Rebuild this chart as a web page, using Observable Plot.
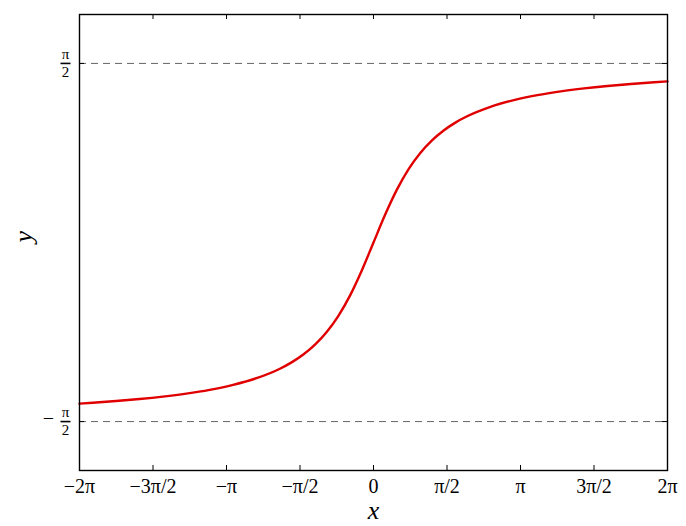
<!DOCTYPE html>
<html>
<head>
<meta charset="utf-8">
<script src="https://cdn.jsdelivr.net/npm/d3@7"></script>
<script src="https://cdn.jsdelivr.net/npm/@observablehq/plot@0.6"></script>
<style>
  html, body { margin: 0; padding: 0; background: #fff; }
</style>
</head>
<body>
<div id="chart"></div>
<script>
const PI = Math.PI;
// Curve samples (y = arctan x shape)
const xs = [-6.2832, -6, -5.5, -5, -4.5, -4, -3.5, -3, -2.5, -2, -1.75, -1.5, -1.25, -1, -0.75, -0.5, -0.25, 0,
            0.25, 0.5, 0.75, 1, 1.25, 1.5, 1.75, 2, 2.5, 3, 3.5, 4, 4.5, 5, 5.5, 6, 6.2832];
const ys = [-1.4130, -1.4056, -1.3909, -1.3734, -1.3521, -1.3258, -1.2925, -1.2490, -1.1903, -1.1071, -1.0517, -0.9828, -0.8961, -0.7854, -0.6435, -0.4636, -0.2450, 0,
            0.2450, 0.4636, 0.6435, 0.7854, 0.8961, 0.9828, 1.0517, 1.1071, 1.1903, 1.2490, 1.2925, 1.3258, 1.3521, 1.3734, 1.3909, 1.4056, 1.4130];
// Axis ticks
const xTicks = [-2 * PI, -1.5 * PI, -PI, -0.5 * PI, 0, 0.5 * PI, PI, 1.5 * PI, 2 * PI];
const xTickLabels = ["−2π", "−3π/2", "−π", "−π/2", "0", "π/2", "π", "3π/2", "2π"];
const yTicks = [-PI / 2, PI / 2];
const asymptotes = [-PI / 2, PI / 2];

const data = xs.map((x, i) => ({x, y: ys[i]}));

const W = 686, H = 526;
const mL = 79, mR = 19, mT = 14, mB = 56;
const plotW = W - mL - mR, plotH = H - mT - mB;
const serif = "'Liberation Serif', 'DejaVu Serif', serif";

// horizontal bar symbol for the fraction line of the y tick labels
const fracBar = {draw(context) { context.moveTo(-5, 0); context.lineTo(5, 0); }};

const chart = Plot.plot({
  width: W,
  height: H,
  marginLeft: mL,
  marginRight: mR,
  marginTop: mT,
  marginBottom: mB,
  style: {fontFamily: serif, background: "#fff", color: "#000"},
  x: {domain: [-2 * PI, 2 * PI]},
  y: {domain: [-2, 2]},
  marks: [
    Plot.ruleY(asymptotes, {y: d => d, stroke: "#666", strokeWidth: 1, strokeDasharray: "7,5"}),
    Plot.line(data, {x: "x", y: "y", stroke: "#e00000", strokeWidth: 2.4, curve: "monotone-x"}),
    // inside ticks, bottom and top
    Plot.tickX(xTicks, {x: d => d, insetTop: plotH - 5, stroke: "#000", strokeWidth: 1}),
    Plot.tickX(xTicks, {x: d => d, insetBottom: plotH - 5, stroke: "#000", strokeWidth: 1}),
    // inside ticks, left and right
    Plot.tickY(yTicks, {y: d => d, insetRight: plotW - 5, stroke: "#000", strokeWidth: 1}),
    Plot.tickY(yTicks, {y: d => d, insetLeft: plotW - 5, stroke: "#000", strokeWidth: 1}),
    Plot.frame({stroke: "#000", strokeWidth: 1.4}),
    Plot.axisX({ticks: xTicks, tickFormat: (d, i) => xTickLabels[i], tickSize: 0, tickPadding: 8, fontSize: 20, label: null}),
    Plot.axisY({ticks: [], label: null}),
    // y tick labels as fractions
    Plot.text(yTicks, {y: d => d, text: () => "π", frameAnchor: "left", textAnchor: "middle", dx: -14, dy: -9, fontSize: 15, fontFamily: serif, fill: "#000"}),
    Plot.text(yTicks, {y: d => d, text: () => "2", frameAnchor: "left", textAnchor: "middle", dx: -14, dy: 9, fontSize: 15, fontFamily: serif, fill: "#000"}),
    Plot.dot(yTicks, {y: d => d, frameAnchor: "left", dx: -14, symbol: fracBar, r: 5, stroke: "#000", strokeWidth: 1.6, fill: "none"}),
    Plot.text(yTicks.filter(d => d < 0), {y: d => d, text: () => "−", frameAnchor: "left", textAnchor: "middle", dx: -31, dy: -3, fontSize: 20, fontFamily: serif, fill: "#000"}),
    // axis titles
    Plot.text(["x"], {frameAnchor: "bottom", dy: 48, text: d => d, fontSize: 26, fontStyle: "italic", fontFamily: serif, fill: "#000"}),
    Plot.text(["y"], {frameAnchor: "left", dx: -56, rotate: -90, text: d => d, fontSize: 26, fontStyle: "italic", fontFamily: serif, fill: "#000"})
  ]
});
document.getElementById("chart").appendChild(chart);
</script>
</body>
</html>
